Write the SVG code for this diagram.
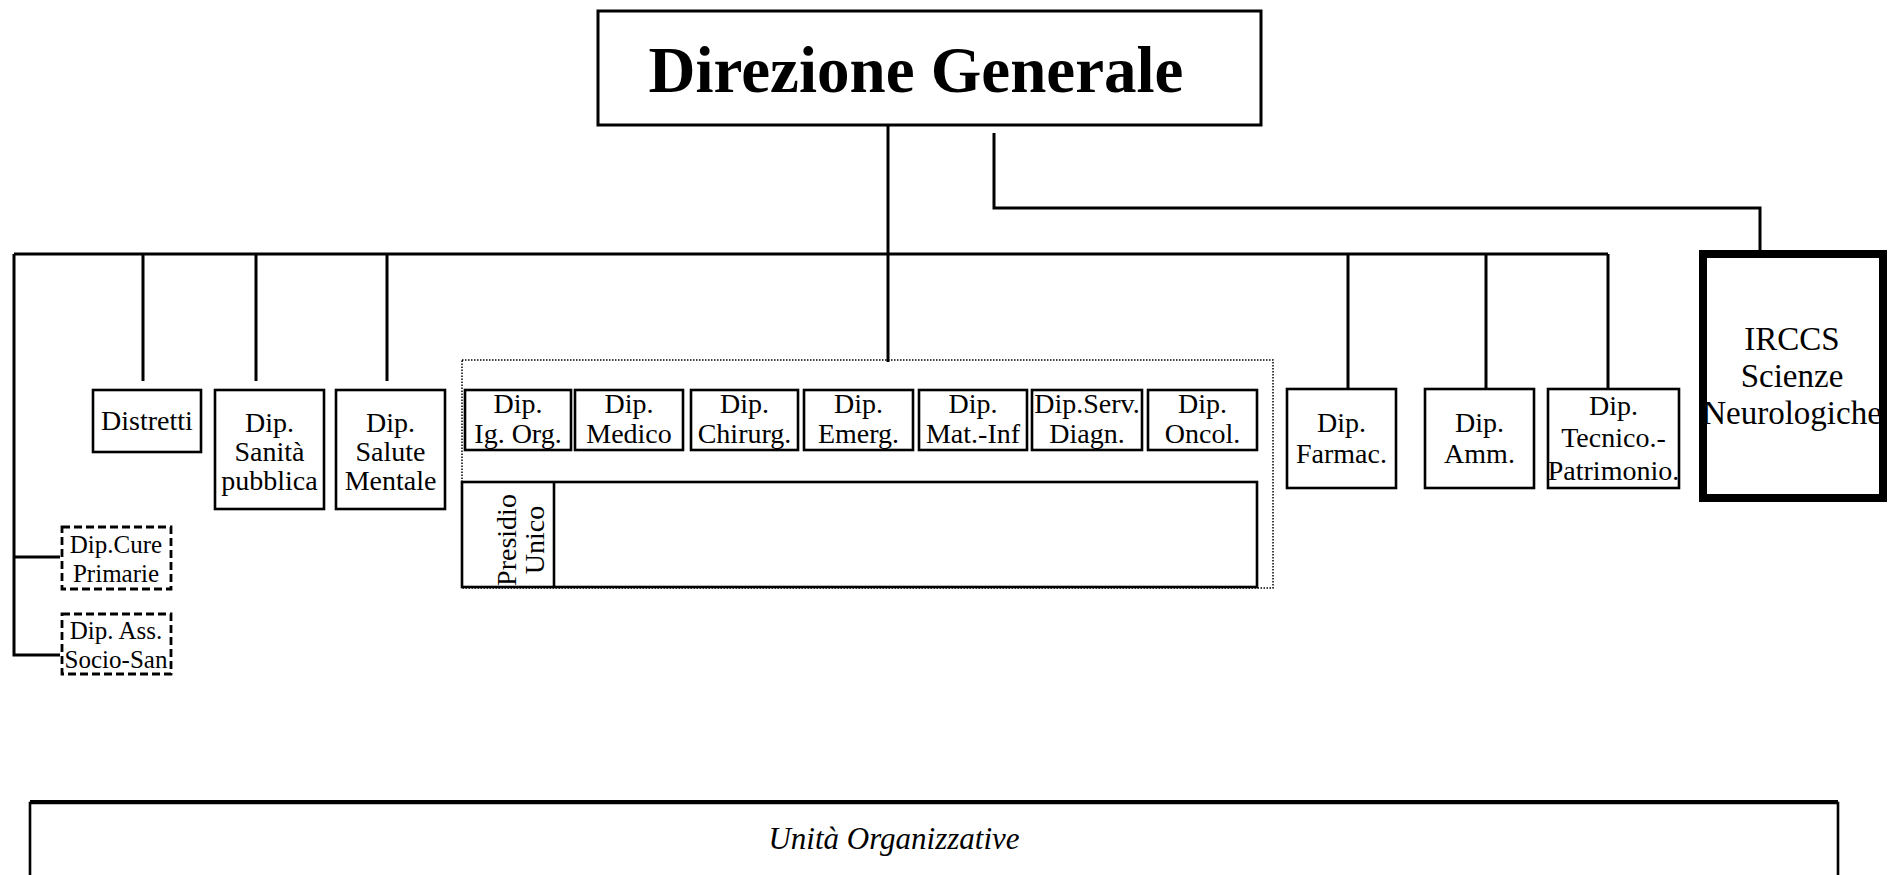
<svg xmlns="http://www.w3.org/2000/svg" width="1893" height="875" viewBox="0 0 1893 875">
<style>
.bg{fill:#fff}
.box{fill:#fff;stroke:#000;stroke-width:2.6}
.dash{fill:#fff;stroke:#000;stroke-width:2.8;stroke-dasharray:8 4}
.dot{fill:none;stroke:#000;stroke-width:1.5;stroke-dasharray:1.5 1.5}
.thick{fill:#fff;stroke:#000;stroke-width:8}
.ln{fill:none;stroke:#000;stroke-width:3}
.t{font-family:"Liberation Serif","Times New Roman",serif;font-size:28px;fill:#000;text-anchor:middle}
.ts{font-family:"Liberation Serif","Times New Roman",serif;font-size:25px;fill:#000;text-anchor:middle}
.tl{font-family:"Liberation Serif","Times New Roman",serif;font-size:33px;fill:#000;text-anchor:middle}
.title{font-family:"Liberation Serif","Times New Roman",serif;font-size:65px;font-weight:bold;fill:#000;text-anchor:middle}
.it{font-family:"Liberation Serif","Times New Roman",serif;font-size:31px;font-style:italic;fill:#000;text-anchor:middle}
</style>
<rect class="bg" x="0" y="0" width="1893" height="875"/>

<g id="connectors">
  <path class="ln" d="M888 125 V362"/>
  <path class="ln" d="M14 254 H1608"/>
  <path class="ln" d="M14 254 V655 H60 M14 557 H60"/>
  <path class="ln" d="M143 254 V381 M256 254 V381 M387 254 V381"/>
  <path class="ln" d="M1348 254 V389 M1486 254 V389 M1608 254 V389"/>
  <path class="ln" d="M994 133 V208 H1760 V250"/>
</g>

<g id="direzione-generale">
  <rect class="box" x="598" y="11" width="663" height="114" style="stroke-width:3"/>
  <text class="title" x="916" y="92">Direzione Generale</text>
</g>

<g id="presidio-container">
  <rect class="dot" x="462" y="360" width="811" height="228"/>
</g>

<g id="distretti">
  <rect class="box" x="93" y="390" width="108" height="62"/>
  <text class="t" x="147" y="430">Distretti</text>
</g>
<g id="dip-sanita-pubblica">
  <rect class="box" x="215" y="390" width="109" height="119"/>
  <text class="t" x="269.5" y="432">Dip.</text>
  <text class="t" x="269.5" y="461">Sanità</text>
  <text class="t" x="269.5" y="490">pubblica</text>
</g>
<g id="dip-salute-mentale">
  <rect class="box" x="336" y="390" width="109" height="119"/>
  <text class="t" x="390.5" y="432">Dip.</text>
  <text class="t" x="390.5" y="461">Salute</text>
  <text class="t" x="390.5" y="490">Mentale</text>
</g>

<g id="dip-ig-org">
  <rect class="box" x="465" y="390" width="106" height="60"/>
  <text class="t" x="518" y="413">Dip.</text>
  <text class="t" x="518" y="443">Ig. Org.</text>
</g>
<g id="dip-medico">
  <rect class="box" x="575" y="390" width="108" height="60"/>
  <text class="t" x="629" y="413">Dip.</text>
  <text class="t" x="629" y="443">Medico</text>
</g>
<g id="dip-chirurg">
  <rect class="box" x="691" y="390" width="107" height="60"/>
  <text class="t" x="744.5" y="413">Dip.</text>
  <text class="t" x="744.5" y="443">Chirurg.</text>
</g>
<g id="dip-emerg">
  <rect class="box" x="804" y="390" width="109" height="60"/>
  <text class="t" x="858.5" y="413">Dip.</text>
  <text class="t" x="858.5" y="443">Emerg.</text>
</g>
<g id="dip-mat-inf">
  <rect class="box" x="919" y="390" width="108" height="60"/>
  <text class="t" x="973" y="413">Dip.</text>
  <text class="t" x="973" y="443">Mat.-Inf</text>
</g>
<g id="dip-serv-diagn">
  <rect class="box" x="1032" y="390" width="110" height="60"/>
  <text class="t" x="1087" y="413">Dip.Serv.</text>
  <text class="t" x="1087" y="443">Diagn.</text>
</g>
<g id="dip-oncol">
  <rect class="box" x="1148" y="390" width="109" height="60"/>
  <text class="t" x="1202.5" y="413">Dip.</text>
  <text class="t" x="1202.5" y="443">Oncol.</text>
</g>

<g id="presidio-unico">
  <rect class="box" x="462" y="482" width="795" height="105"/>
  <line class="ln" x1="554" y1="482" x2="554" y2="587" style="stroke-width:2.6"/>
  <text class="t" transform="translate(516,540) rotate(-90)">Presidio</text>
  <text class="t" transform="translate(544,540) rotate(-90)">Unico</text>
</g>

<g id="dip-farmac">
  <rect class="box" x="1287" y="389" width="109" height="99"/>
  <text class="t" x="1341.5" y="432">Dip.</text>
  <text class="t" x="1341.5" y="463">Farmac.</text>
</g>
<g id="dip-amm">
  <rect class="box" x="1425" y="389" width="109" height="99"/>
  <text class="t" x="1479.5" y="432">Dip.</text>
  <text class="t" x="1479.5" y="463">Amm.</text>
</g>
<g id="dip-tecnico-patrimonio">
  <rect class="box" x="1548" y="389" width="131" height="99"/>
  <text class="t" x="1613.5" y="415">Dip.</text>
  <text class="t" x="1613.5" y="447">Tecnico.-</text>
  <text class="t" x="1613.5" y="480">Patrimonio.</text>
</g>

<g id="irccs">
  <rect class="thick" x="1703" y="254" width="180" height="244"/>
  <text class="tl" x="1792" y="350">IRCCS</text>
  <text class="tl" x="1792" y="387">Scienze</text>
  <text class="tl" x="1792" y="424">Neurologiche</text>
</g>

<g id="dip-cure-primarie">
  <rect class="dash" x="62" y="527" width="109" height="62"/>
  <text class="ts" x="116" y="553">Dip.Cure</text>
  <text class="ts" x="116" y="582">Primarie</text>
</g>
<g id="dip-ass-socio-san">
  <rect class="dash" x="62" y="614" width="109" height="60"/>
  <text class="ts" x="116" y="639">Dip. Ass.</text>
  <text class="ts" x="116" y="668">Socio-San</text>
</g>

<g id="unita-organizzative">
  <path class="ln" d="M30 880 V803 H1838 V880" style="stroke-width:2.6"/>
  <path class="ln" d="M30 802 H1838" style="stroke-width:4"/>
  <text class="it" x="894" y="849">Unità Organizzative</text>
</g>
</svg>
